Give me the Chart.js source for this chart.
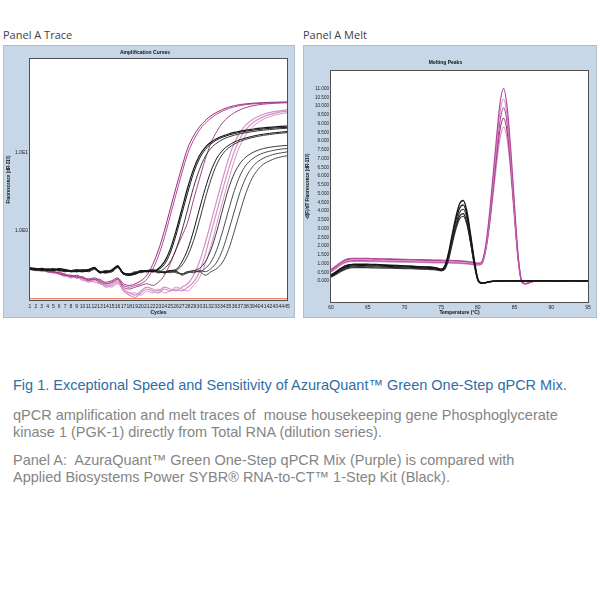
<!DOCTYPE html>
<html><head><meta charset="utf-8">
<script src="https://cdn.jsdelivr.net/npm/chart.js@4"></script>
<style>
html,body{margin:0;padding:0;background:#fff;width:600px;height:600px;overflow:hidden;}
.lbl{position:absolute;font-family:"Open Sans","Noto Sans",sans-serif;font-size:11px;line-height:15px;color:#3b3f45;white-space:nowrap;}
#w1{position:absolute;left:3px;top:45px;width:292px;height:273px;}
#w2{position:absolute;left:303px;top:45px;width:294px;height:273px;}
.txt{position:absolute;left:13px;font-family:"Liberation Sans",Arial,sans-serif;font-size:14.5px;line-height:16.5px;white-space:nowrap;}
</style></head><body>
<div class="lbl" style="left:3px;top:27px">Panel A Trace</div>
<div class="lbl" style="left:303px;top:27px">Panel A Melt</div>
<div id="w1"><canvas id="c1" width="292" height="273"></canvas></div>
<div id="w2"><canvas id="c2" width="294" height="273"></canvas></div>
<div class="txt" style="top:377px;color:#2f6ea6">Fig 1. Exceptional Speed and Sensitivity of AzuraQuant™ Green One-Step qPCR Mix.</div>
<div class="txt" style="top:407px;color:#858585">qPCR amplification and melt traces of&nbsp; mouse housekeeping gene Phosphoglycerate<br>kinase 1 (PGK-1) directly from Total RNA (dilution series).</div>
<div class="txt" style="top:452px;color:#858585">Panel A:&nbsp; AzuraQuant™ Green One-Step qPCR Mix (Purple) is compared with<br>Applied Biosystems Power SYBR® RNA-to-CT™ 1-Step Kit (Black).</div>
<script>
// ---------- Amplification data ----------
const CYCLES = [1,2,3,4,5,6,7,8,9,10,11,12,13,14,15,16,17,18,19,20,21,22,23,24,25,26,27,28,29,30,31,32,33,34,35,36,37,38,39,40,41,42,43,44,45];
const LOG_TICKS = [1, 10];
const LOG_TICK_LABELS = ['1.0E0', '1.0E1'];
const THRESHOLD = 0.135;

const B1a = [0.33,0.32,0.33,0.31,0.32,0.32,0.31,0.30,0.31,0.30,0.31,0.34,0.29,0.30,0.31,0.36,0.28,0.27,0.28,0.30,0.31,0.30,0.33,0.40,0.58,1.0,1.9,3.6,6.2,9.2,11.8,13.8,15.3,16.5,17.5,18.3,19.0,19.6,20.1,20.6,21.0,21.3,21.6,21.9,22.1];
const B1b = [0.32,0.33,0.32,0.32,0.31,0.33,0.32,0.31,0.30,0.31,0.32,0.33,0.30,0.29,0.32,0.35,0.29,0.28,0.29,0.31,0.30,0.31,0.32,0.37,0.52,0.88,1.65,3.1,5.5,8.4,11.0,13.1,14.7,15.9,16.9,17.7,18.4,19.0,19.5,19.9,20.3,20.6,20.9,21.1,21.3];
const B1c = [0.34,0.33,0.32,0.33,0.31,0.32,0.30,0.31,0.32,0.31,0.30,0.33,0.30,0.31,0.30,0.35,0.29,0.28,0.30,0.29,0.31,0.32,0.30,0.33,0.40,0.58,1.0,1.9,3.6,6.1,9.0,11.5,13.4,14.9,16.0,16.9,17.6,18.2,18.7,19.2,19.6,19.9,20.2,20.5,20.7];
const B2a = [0.33,0.32,0.31,0.32,0.33,0.31,0.32,0.30,0.30,0.32,0.31,0.33,0.29,0.30,0.31,0.34,0.28,0.28,0.29,0.30,0.30,0.31,0.30,0.29,0.31,0.32,0.40,0.58,1.0,1.9,3.5,5.9,8.6,10.8,12.5,13.8,14.8,15.6,16.3,16.9,17.4,17.8,18.2,18.5,18.8];
const B2b = [0.32,0.33,0.32,0.31,0.32,0.33,0.31,0.31,0.30,0.31,0.32,0.34,0.30,0.29,0.30,0.35,0.29,0.27,0.28,0.31,0.30,0.30,0.31,0.29,0.30,0.31,0.36,0.48,0.75,1.35,2.6,4.6,7.2,9.7,11.6,13.0,14.1,15.0,15.7,16.3,16.8,17.2,17.6,17.9,18.2];
const B3a = [0.33,0.32,0.32,0.31,0.32,0.31,0.30,0.31,0.31,0.30,0.31,0.33,0.30,0.30,0.31,0.35,0.28,0.27,0.29,0.30,0.31,0.30,0.30,0.29,0.31,0.30,0.28,0.30,0.31,0.33,0.40,0.58,1.0,1.9,3.5,5.5,7.4,8.9,10.0,10.8,11.4,11.8,12.1,12.3,12.5];
const B3b = [0.32,0.31,0.33,0.32,0.31,0.32,0.31,0.30,0.32,0.31,0.30,0.32,0.29,0.31,0.30,0.34,0.29,0.28,0.28,0.31,0.30,0.31,0.29,0.30,0.30,0.31,0.27,0.29,0.31,0.30,0.33,0.40,0.58,1.0,1.85,3.3,5.2,7.0,8.3,9.3,10.0,10.5,10.9,11.2,11.4];
const B3c = [0.33,0.33,0.32,0.32,0.32,0.31,0.31,0.31,0.30,0.30,0.32,0.33,0.30,0.29,0.31,0.35,0.28,0.28,0.29,0.30,0.31,0.30,0.30,0.30,0.29,0.30,0.28,0.30,0.29,0.31,0.30,0.33,0.40,0.58,1.0,1.8,3.2,4.9,6.5,7.7,8.6,9.2,9.7,10.0,10.3];
const B3d = [0.32,0.32,0.33,0.31,0.32,0.32,0.30,0.31,0.31,0.31,0.31,0.34,0.30,0.30,0.30,0.34,0.29,0.27,0.29,0.30,0.30,0.31,0.29,0.30,0.31,0.29,0.28,0.29,0.30,0.30,0.27,0.30,0.33,0.40,0.58,1.0,1.8,3.1,4.7,6.1,7.2,7.9,8.5,8.9,9.2];

const P1a = [0.33,0.32,0.31,0.31,0.30,0.29,0.28,0.26,0.27,0.25,0.24,0.25,0.23,0.22,0.23,0.25,0.21,0.20,0.21,0.23,0.27,0.37,0.57,1.0,1.9,3.6,6.6,11.5,16.5,21.5,26,30,33.3,36.2,38.6,40.4,41.7,42.6,43.3,43.8,44.2,44.5,44.7,44.9,45.0];
const P1b = [0.32,0.33,0.32,0.30,0.29,0.30,0.27,0.27,0.25,0.26,0.23,0.24,0.24,0.21,0.22,0.24,0.20,0.19,0.20,0.21,0.24,0.32,0.48,0.82,1.55,2.95,5.5,9.8,14.5,19.5,24,28,31.5,34.5,37,39,40.5,41.6,42.4,43,43.4,43.7,43.9,44.1,44.2];
const P2  = [0.33,0.31,0.32,0.30,0.30,0.28,0.27,0.27,0.26,0.25,0.24,0.24,0.22,0.21,0.22,0.24,0.19,0.18,0.19,0.20,0.21,0.20,0.22,0.27,0.38,0.58,0.85,1.3,2.5,4.6,8.3,13.5,19,24.5,29,32.8,35.8,38.2,40,41.3,42.2,42.9,43.4,43.8,44.0];
const P3a = [0.32,0.32,0.31,0.30,0.29,0.28,0.27,0.25,0.26,0.24,0.23,0.24,0.21,0.20,0.21,0.23,0.18,0.16,0.15,0.17,0.19,0.18,0.17,0.19,0.18,0.17,0.19,0.21,0.27,0.4,0.7,1.3,2.5,4.7,8.5,13.5,18.5,23,26.5,29.3,31.3,32.8,34,34.9,35.6];
const P3b = [0.33,0.31,0.31,0.30,0.30,0.28,0.26,0.26,0.25,0.24,0.22,0.23,0.22,0.19,0.20,0.22,0.17,0.15,0.14,0.16,0.18,0.17,0.16,0.18,0.17,0.18,0.17,0.19,0.22,0.3,0.5,0.95,1.8,3.4,6.2,10.5,15.5,20,23.8,26.8,29.2,31,32.4,33.5,34.3];
const P3c = [0.32,0.32,0.30,0.31,0.29,0.29,0.27,0.25,0.26,0.23,0.23,0.22,0.21,0.20,0.19,0.21,0.18,0.16,0.16,0.15,0.17,0.16,0.18,0.16,0.17,0.19,0.18,0.17,0.20,0.25,0.38,0.65,1.25,2.4,4.5,8,12.6,17.2,21.2,24.5,27.1,29.1,30.7,31.9,32.8];

// ---------- Melt data ----------
const TEMPS = [60,60.5,61,61.5,62,62.5,63,64,65,66,67,68,69,70,71,72,73,74,74.5,75,75.5,76,76.5,77,77.5,78,78.5,79,79.5,80,80.5,81,81.5,82,82.5,83,83.5,84,84.5,85,85.5,86,86.5,87,87.5,88,89,90,91,92,93,94,95];
const MELT_X_TICKS = [60,65,70,75,80,85,90,95];
const MELT_Y_TICKS = [0,0.5,1,1.5,2,2.5,3,3.5,4,4.5,5,5.5,6,6.5,7,7.5,8,8.5,9,9.5,10,10.5,11];

const MB1 = [0.32,0.45,0.60,0.74,0.85,0.91,0.93,0.94,0.93,0.92,0.90,0.88,0.86,0.85,0.83,0.81,0.79,0.76,0.72,0.66,0.85,1.6,2.65,3.65,4.4,4.6,4.0,2.7,1.25,0.12,-0.12,-0.1,-0.05,-0.02,0,0.01,0,0.01,0,0.01,0,0,0.01,0,0,0.01,0,0.01,0,0,0.01,0,0];
const MB2 = [0.28,0.40,0.55,0.68,0.79,0.85,0.87,0.88,0.87,0.86,0.85,0.83,0.81,0.80,0.78,0.76,0.74,0.71,0.68,0.62,0.78,1.45,2.5,3.45,4.15,4.35,3.8,2.55,1.15,0.08,-0.13,-0.1,-0.05,-0.02,0,0,0.01,0,0,0.01,0,0,0,0.01,0,0,0.01,0,0,0.01,0,0,0];
const MB3 = [0.25,0.36,0.50,0.63,0.73,0.79,0.81,0.82,0.81,0.80,0.79,0.78,0.76,0.75,0.73,0.72,0.70,0.68,0.65,0.60,0.72,1.3,2.3,3.2,3.9,4.1,3.6,2.4,1.05,0.05,-0.14,-0.11,-0.06,-0.02,0,0.01,0,0,0.01,0,0,0.01,0,0,0,0.01,0,0,0.01,0,0,0.01,0];
const MB4 = [0.35,0.48,0.63,0.77,0.88,0.94,0.96,0.97,0.96,0.95,0.93,0.91,0.89,0.87,0.85,0.83,0.81,0.78,0.74,0.68,0.82,1.35,2.25,3.1,3.7,3.85,3.35,2.25,1.0,0.1,-0.11,-0.09,-0.04,-0.01,0,0,0.01,0,0,0,0.01,0,0,0,0.01,0,0,0,0.01,0,0,0,0];
const MB5 = [0.22,0.33,0.46,0.58,0.68,0.74,0.76,0.77,0.76,0.75,0.74,0.73,0.72,0.71,0.70,0.68,0.67,0.65,0.62,0.58,0.68,1.2,2.1,2.95,3.55,3.7,3.25,2.2,0.95,0.04,-0.12,-0.1,-0.05,-0.02,0,0,0,0.01,0,0,0,0,0.01,0,0,0,0,0.01,0,0,0,0,0];

const MP1 = [0.62,0.78,0.95,1.1,1.22,1.28,1.3,1.3,1.29,1.28,1.27,1.26,1.25,1.24,1.23,1.22,1.21,1.2,1.2,1.19,1.18,1.18,1.17,1.16,1.15,1.14,1.12,1.1,1.06,1.02,1.08,1.85,3.5,5.7,8.0,10.1,11.0,9.9,7.4,4.3,1.4,-0.05,-0.16,-0.1,-0.03,0.0];
const MP2 = [0.58,0.73,0.9,1.04,1.15,1.2,1.22,1.22,1.21,1.2,1.19,1.18,1.17,1.16,1.15,1.14,1.13,1.12,1.12,1.11,1.11,1.1,1.09,1.09,1.08,1.07,1.05,1.03,1.0,0.96,1.02,1.75,3.3,5.4,7.6,9.6,10.4,9.4,7.0,4.0,1.3,-0.06,-0.15,-0.09,-0.03,0.0];
const MP3 = [0.55,0.7,0.86,1.0,1.1,1.15,1.17,1.17,1.16,1.16,1.15,1.14,1.13,1.12,1.11,1.1,1.09,1.08,1.08,1.07,1.07,1.06,1.05,1.05,1.04,1.03,1.01,0.99,0.96,0.93,0.98,1.65,3.1,5.1,7.2,9.1,9.9,9.0,6.7,3.8,1.2,-0.08,-0.16,-0.1,-0.03,0.0];
const MP4 = [0.65,0.8,0.96,1.1,1.2,1.25,1.27,1.27,1.26,1.25,1.24,1.23,1.22,1.21,1.2,1.19,1.18,1.17,1.17,1.16,1.16,1.15,1.14,1.14,1.13,1.11,1.09,1.07,1.03,0.99,1.04,1.7,3.0,4.9,6.9,8.6,9.3,8.5,6.4,3.7,1.25,-0.04,-0.14,-0.09,-0.02,0.0];
const MP5 = [0.52,0.66,0.82,0.96,1.05,1.1,1.12,1.12,1.11,1.11,1.1,1.09,1.08,1.08,1.07,1.06,1.05,1.04,1.04,1.03,1.03,1.02,1.02,1.01,1.0,0.99,0.97,0.95,0.92,0.9,0.95,1.55,2.85,4.65,6.5,8.1,8.8,8.1,6.1,3.5,1.15,-0.07,-0.15,-0.1,-0.03,0.0];

// ---------- styling ----------
const PANEL_BG = '#c7d7e7';
const FONT = 'Liberation Sans, Arial, sans-serif';
const BLACK = '#151515', BLACK2 = '#3a3a3a';
const PUR_D = '#9c2f7c', PUR = '#b5479c', PUR_L = '#d493c6';

const panelPlugin = {
  id: 'panel',
  beforeDraw(chart) {
    const {ctx, chartArea: a, width, height} = chart;
    ctx.save();
    ctx.fillStyle = PANEL_BG; ctx.fillRect(0, 0, width, height);
    ctx.strokeStyle = '#aebccb'; ctx.lineWidth = 1; ctx.strokeRect(0.5, 0.5, width - 1, height - 1);
    ctx.fillStyle = '#ffffff'; ctx.fillRect(a.left, a.top, a.right - a.left, a.bottom - a.top);
    ctx.restore();
  },
  afterDraw(chart) {
    const {ctx, chartArea: a} = chart;
    ctx.save();
    ctx.strokeStyle = '#505050'; ctx.lineWidth = 1;
    ctx.strokeRect(Math.round(a.left) - 0.5, Math.round(a.top) - 0.5, Math.round(a.right - a.left) + 1, Math.round(a.bottom - a.top) + 1);
    ctx.restore();
  }
};

function line(data, color, w) {
  return {data, borderColor: color, borderWidth: w || 1, pointRadius: 0, fill: false, cubicInterpolationMode: 'monotone'};
}
function xy(vals) { return vals.map((v, i) => ({x: TEMPS[i], y: v})); }

Chart.defaults.font.family = FONT;
Chart.defaults.color = '#1a1a1a';

// ---------- Amplification chart ----------
new Chart(document.getElementById('c1'), {
  type: 'line',
  data: {
    labels: CYCLES,
    datasets: [
      line(B1a, BLACK, 1.2), line(B1b, BLACK, 1), line(B1c, BLACK2, 1),
      line(B2a, BLACK, 1), line(B2b, BLACK2, 1),
      line(B3a, BLACK2, 1), line(B3b, BLACK2, 0.9), line(B3c, BLACK2, 0.9), line(B3d, BLACK2, 0.9),
      line(P1a, PUR_D, 1), line(P1b, PUR, 1), line(P2, PUR_D, 0.9),
      line(P3a, PUR_L, 1.2), line(P3b, PUR_L, 1.2), line(P3c, PUR_L, 1),
      {data: [{x: CYCLES[0], y: THRESHOLD}, {x: CYCLES[CYCLES.length - 1], y: THRESHOLD}], borderColor: '#e2603e', borderWidth: 1, pointRadius: 0}
    ]
  },
  options: {
    responsive: false, animation: false,
    layout: {padding: {left: 0, right: 8, top: 0, bottom: 0}},
    plugins: {
      legend: {display: false}, tooltip: {enabled: false},
      title: {display: true, text: 'Amplification Curves', color: '#111', font: {size: 5, weight: 'bold', lineHeight: 1}, padding: {top: 5.5, bottom: 3.5}}
    },
    scales: {
      x: {
        type: 'category',
        grid: {display: false, drawTicks: false}, border: {display: false},
        ticks: {autoSkip: false, maxRotation: 0, minRotation: 0, font: {size: 5}, padding: 4, color: '#222'},
        title: {display: true, text: 'Cycles', font: {size: 5, weight: 'bold', lineHeight: 1}, padding: {top: 0, bottom: 3}, color: '#111'},
        afterFit(s) { s.height = 18; }
      },
      y: {
        type: 'logarithmic', min: 0.13, max: 160,
        grid: {display: false, drawTicks: false}, border: {display: false},
        afterBuildTicks(s) { s.ticks = LOG_TICKS.map(v => ({value: v})); },
        ticks: {font: {size: 5}, padding: 2, color: '#222', callback: (v) => { const i = LOG_TICKS.indexOf(v); return i >= 0 ? LOG_TICK_LABELS[i] : ''; }},
        title: {display: true, text: 'Fluorescence (dR-110)', font: {size: 4.5, weight: 'bold', lineHeight: 1}, padding: {top: 4, bottom: 0}, color: '#111'},
        afterFit(s) { s.width = 27; }
      }
    }
  },
  plugins: [panelPlugin]
});

// ---------- Melt chart ----------
new Chart(document.getElementById('c2'), {
  type: 'line',
  data: {
    datasets: [
      line(xy(MB1), BLACK, 1.3), line(xy(MB2), BLACK, 1.2), line(xy(MB3), BLACK2, 1.2), line(xy(MB4), BLACK, 1.2), line(xy(MB5), BLACK2, 1.2),
      line(xy(MP1), PUR, 1.2), line(xy(MP2), PUR_L, 1.2), line(xy(MP3), PUR, 1.2), line(xy(MP4), PUR_D, 1.1), line(xy(MP5), PUR_L, 1.2)
    ]
  },
  options: {
    responsive: false, animation: false, parsing: true,
    layout: {padding: {left: 0, right: 9, top: 0, bottom: 0}},
    plugins: {
      legend: {display: false}, tooltip: {enabled: false},
      title: {display: true, text: 'Melting Peaks', color: '#111', font: {size: 5, weight: 'bold', lineHeight: 1}, padding: {top: 15.5, bottom: 5.5}}
    },
    scales: {
      x: {
        type: 'linear', min: 60, max: 95,
        grid: {display: false, drawTicks: false}, border: {display: false},
        afterBuildTicks(s) { s.ticks = MELT_X_TICKS.map(v => ({value: v})); },
        ticks: {font: {size: 5}, padding: 2.5, maxRotation: 0, color: '#222'},
        title: {display: true, text: 'Temperature (°C)', font: {size: 5, weight: 'bold', lineHeight: 1}, padding: {top: 0, bottom: 3}, color: '#111'},
        afterFit(s) { s.height = 16; }
      },
      y: {
        type: 'linear', min: -1.2, max: 12,
        grid: {display: false, drawTicks: false}, border: {display: false},
        afterBuildTicks(s) { s.ticks = MELT_Y_TICKS.map(v => ({value: v})); },
        ticks: {font: {size: 4.6}, padding: 2, color: '#222', callback: (v) => Number(v).toFixed(3)},
        title: {display: true, text: '-d(F)/dT Fluorescence (dR-110)', font: {size: 4.5, weight: 'bold', lineHeight: 1}, padding: {top: 3, bottom: 0}, color: '#111'},
        afterFit(s) { s.width = 28; }
      }
    }
  },
  plugins: [panelPlugin]
});
</script>
</body></html>
